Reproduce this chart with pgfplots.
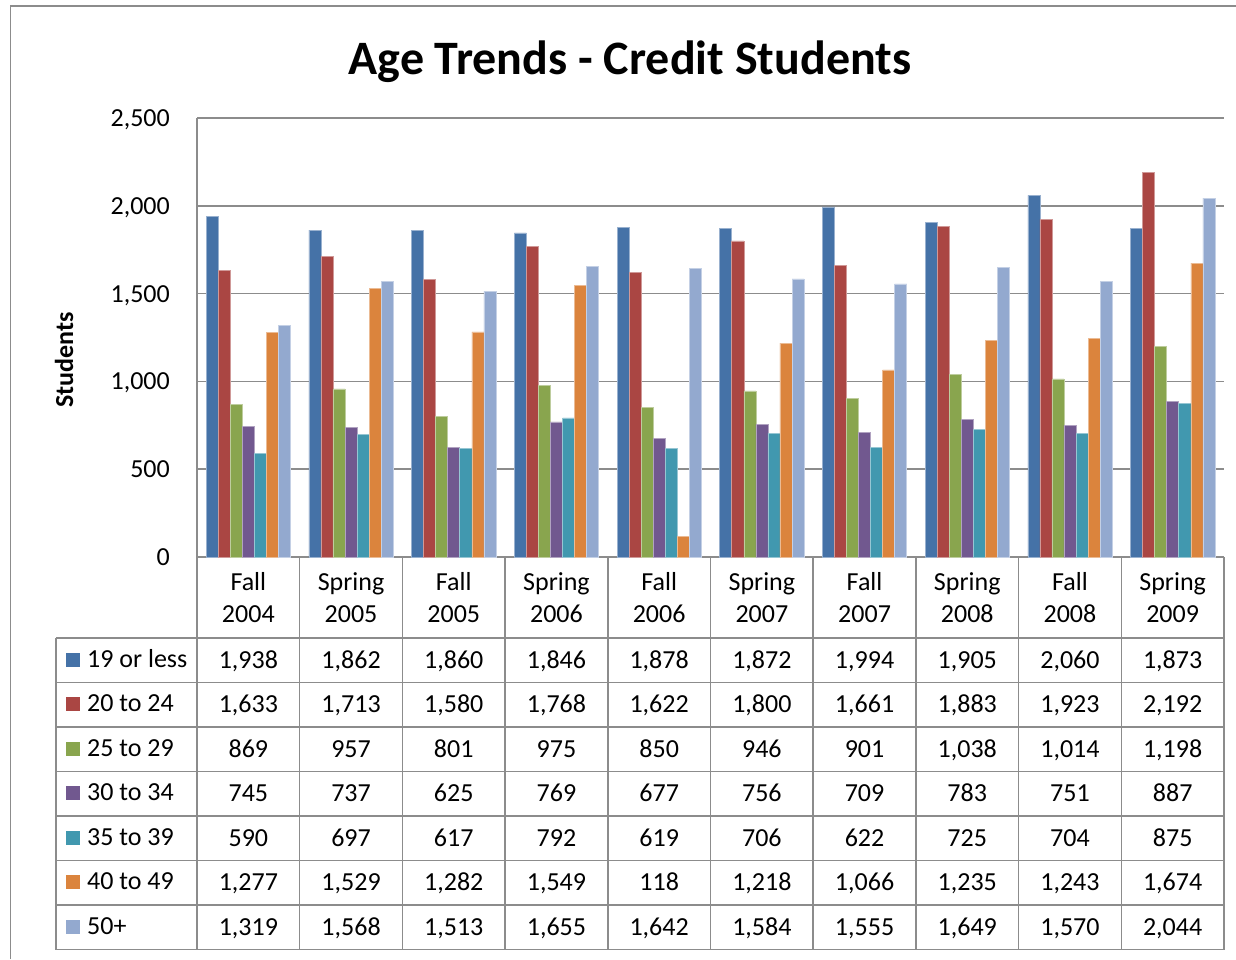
\documentclass[border=0pt]{standalone}
\usepackage{fontspec}
\setmainfont{Carlito}
\usepackage{pgfplots}
\usepackage{pgfplotstable}
\pgfplotsset{compat=1.18}

\definecolor{cA}{HTML}{4572A7}
\definecolor{cB}{HTML}{AA4643}
\definecolor{cC}{HTML}{89A54E}
\definecolor{cD}{HTML}{71588F}
\definecolor{cE}{HTML}{4198AF}
\definecolor{cF}{HTML}{DB843D}
\definecolor{cG}{HTML}{93A9CF}
\definecolor{gridgray}{HTML}{8C8C8C}

% one row per term; columns = age groups
\pgfplotstableread{
x a    b    c    d   e   f    g
0 1938 1633 869  745 590 1277 1319
1 1862 1713 957  737 697 1529 1568
2 1860 1580 801  625 617 1282 1513
3 1846 1768 975  769 792 1549 1655
4 1878 1622 850  677 619 118  1642
5 1872 1800 946  756 706 1218 1584
6 1994 1661 901  709 622 1066 1555
7 1905 1883 1038 783 725 1235 1649
8 2060 1923 1014 751 704 1243 1570
9 1873 2192 1198 887 875 1674 2044
}\agedata

\newcommand{\bigfont}{\fontsize{26}{32}\selectfont}

\begin{document}
\begin{tikzpicture}
\useasboundingbox (0pt,0pt) rectangle (1236pt,-959pt);

% chart frame (cropped at right and bottom)
\draw[gridgray, line width=1.5pt] (10.5pt,-959pt) -- (10.5pt,-6pt) -- (1236pt,-6pt);

\begin{axis}[
    at={(197pt,-557pt)}, anchor=south west,
    scale only axis,
    width=1027pt, height=439pt,
    xmin=-0.5, xmax=9.5,
    ymin=0, ymax=2500,
    ytick={0,500,...,2500},
    xtick=\empty,
    ybar=0pt,
    bar width=0.1173,
    axis x line*=bottom,
    axis y line*=left,
    axis line style={gridgray, line width=1.5pt, -},
    ymajorgrids,
    grid style={gridgray, line width=1.5pt},
    major tick length=0pt,
    yticklabel style={font=\bigfont, anchor=base east, inner sep=0pt, xshift=-27pt, yshift=-8.5pt},
    /pgf/number format/.cd, 1000 sep={,}, assume math mode=true,
]
\addplot[fill=cA, draw=cA!55!white, line width=0.6pt] table[x=x,y=a] {\agedata};
\addplot[fill=cB, draw=cB!55!white, line width=0.6pt] table[x=x,y=b] {\agedata};
\addplot[fill=cC, draw=cC!55!white, line width=0.6pt] table[x=x,y=c] {\agedata};
\addplot[fill=cD, draw=cD!55!white, line width=0.6pt] table[x=x,y=d] {\agedata};
\addplot[fill=cE, draw=cE!55!white, line width=0.6pt] table[x=x,y=e] {\agedata};
\addplot[fill=cF, draw=cF!55!white, line width=0.6pt] table[x=x,y=f] {\agedata};
\addplot[fill=cG, draw=cG!55!white, line width=0.6pt] table[x=x,y=g] {\agedata};
\end{axis}

\begin{scope}[x=1pt, y=-1pt]
% title and y label
\node[font=\fontsize{48}{50}\selectfont\bfseries] at (630,62) {Age Trends - Credit Students};
\node[font=\bigfont\bfseries, rotate=90] at (64,360) {Students};

% data table grid
\foreach \k in {0,...,10}
  \draw[gridgray, line width=1.5pt] ({197+102.7*\k},557) -- ({197+102.7*\k},949.5);
\foreach \j in {0,...,7}
  \draw[gridgray, line width=1.5pt] (56,{638+44.5*\j}) -- (1224,{638+44.5*\j});
\draw[gridgray, line width=1.5pt] (56,638) -- (56,949.5);

% term names (base anchor = baseline of the second line)
\foreach \t [count=\i from 0] in {Fall\\2004,Spring\\2005,Fall\\2005,Spring\\2006,Fall\\2006,Spring\\2007,Fall\\2007,Spring\\2008,Fall\\2008,Spring\\2009}
  \node[font=\bigfont, align=center, inner sep=0pt, anchor=base] at ({197+102.7*(\i+0.5)},622) {\t};

% legend column
\foreach \lab/\col [count=\j from 0] in {19 or less/cA,20 to 24/cB,25 to 29/cC,30 to 34/cD,35 to 39/cE,40 to 49/cF,50+/cG} {
  \fill[\col] (66,{659.5+44.5*\j-7}) rectangle (80,{659.5+44.5*\j+7});
  \node[font=\bigfont, anchor=base west, inner sep=0pt] at (87,{667+44.5*\j}) {\lab};
}

% values from the table
\foreach \c [count=\j from 0] in {a,b,c,d,e,f,g} {
  \foreach \i in {0,...,9} {
    \pgfplotstablegetelem{\i}{\c}\of\agedata
    \node[font=\bigfont, inner sep=0pt, anchor=base] at ({197+102.7*(\i+0.5)},{668.3+44.5*\j})
      {\pgfmathprintnumber[1000 sep={,}, assume math mode=true]{\pgfplotsretval}};
  }
}
\end{scope}
\end{tikzpicture}
\end{document}
